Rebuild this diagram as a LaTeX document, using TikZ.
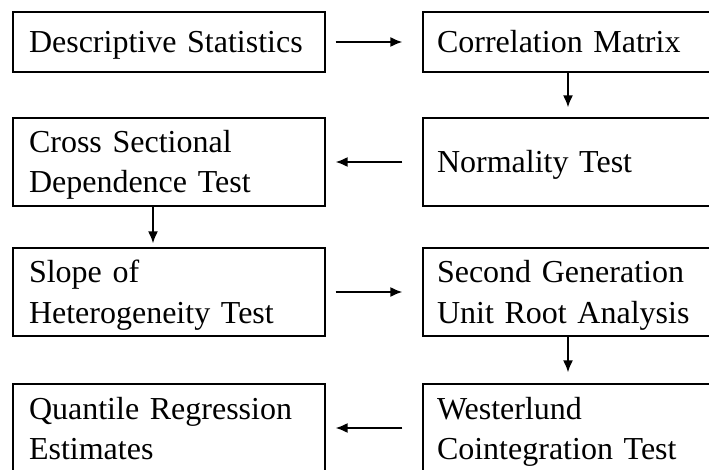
\documentclass[tikz,border=0pt]{standalone}
\usepackage{fontspec}
\setmainfont{Liberation Serif}
\usetikzlibrary{arrows.meta}
\tikzset{box/.style = {draw, line width=1.2pt, align=left,
                       font=\fontsize{32}{40}\selectfont, minimum height=88pt,
                       execute at begin node={\rule{0pt}{31pt}},
                       execute at end node={\rule[-9pt]{0pt}{9pt}}}}
\tikzset{lbox/.style = {box, inner xsep=16pt, text width=280pt}}
\tikzset{rbox/.style = {box, inner xsep=14pt, text width=262pt}}
\tikzset{arr/.style = {-{Latex[length=12pt,width=10pt]}, line width=1.8pt}}

\begin{document}
\begin{tikzpicture}[x=1pt, y=-1pt]
      \useasboundingbox (0,0) rectangle (709,470);
      \clip (0,0) rectangle (709,470);

      \node [lbox, minimum height=60pt] (desc) at (169,42) {Descriptive Statistics};
      \node [rbox, minimum height=60pt] (corr) at (568,42) {Correlation Matrix};
      \node [lbox] (csd) at (169,162) {Cross Sectional\\Dependence Test};
      \node [rbox] (norm) at (568,162) {Normality Test};
      \node [lbox] (slope) at (169,292) {Slope of\\Heterogeneity Test};
      \node [rbox] (unit) at (568,292) {Second Generation\\Unit Root Analysis};
      \node [lbox] (quant) at (169,428) {Quantile Regression\\Estimates};
      \node [rbox] (west) at (568,428) {Westerlund\\Cointegration Test};

      \draw [arr, shorten <=10pt, shorten >=20pt] (desc) -- (corr);
      \draw [arr, shorten >=10pt] (corr) -- (norm);
      \draw [arr, shorten <=20pt, shorten >=10pt] (norm) -- (csd);
      \draw [arr, shorten >=4pt] ([xshift=-16pt]csd.south) -- ([xshift=-16pt]slope.north);
      \draw [arr, shorten <=10pt, shorten >=20pt] (slope) -- (unit);
      \draw [arr, shorten >=11pt] (unit) -- (west);
      \draw [arr, shorten <=20pt, shorten >=10pt] (west) -- (quant);
    \end{tikzpicture}
\end{document}
